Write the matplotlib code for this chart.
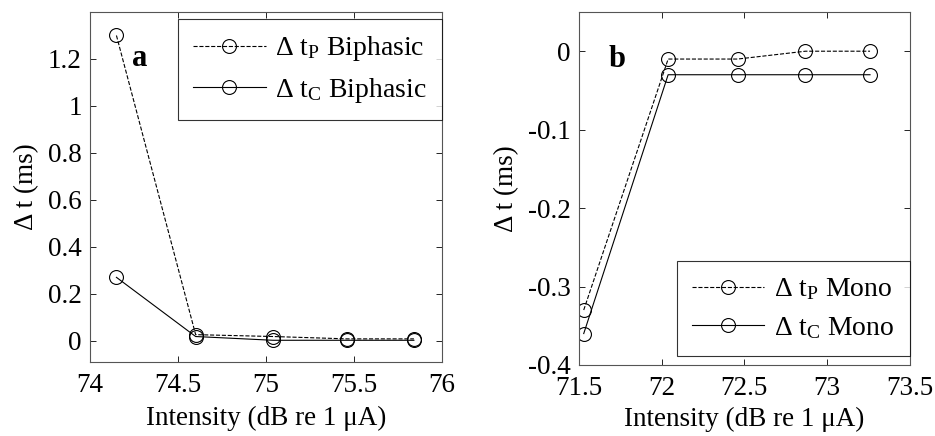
import matplotlib
matplotlib.use('Agg')
import matplotlib.pyplot as plt

plt.rcParams['font.family'] = ['Liberation Serif', 'DejaVu Serif']
plt.rcParams['mathtext.fontset'] = 'custom'
plt.rcParams['mathtext.rm'] = 'Liberation Serif'
plt.rcParams['mathtext.it'] = 'Liberation Serif:italic'
plt.rcParams['font.size'] = 19.5

# Biphasic stimulation
int_bi = [74.15, 74.60, 75.04, 75.46, 75.84]
dtp_bi = [1.30, 0.026, 0.018, 0.008, 0.008]
dtc_bi = [0.27, 0.018, 0.002, 0.002, 0.002]

# Monophasic stimulation
int_mono = [71.53, 72.04, 72.46, 72.87, 73.26]
dtp_mono = [-0.33, -0.01, -0.01, 0.0, 0.0]
dtc_mono = [-0.36, -0.03, -0.03, -0.03, -0.03]

fig = plt.figure(figsize=(9.35, 4.36), dpi=100)
ax1 = fig.add_axes([0.0963, 0.170, 0.3765, 0.8025])
ax2 = fig.add_axes([0.619, 0.163, 0.354, 0.8095])

mk = dict(marker='o', markersize=10, markerfacecolor='none',
          markeredgecolor='k', markeredgewidth=0.8, color='k', linewidth=0.8)
leg_kw = dict(frameon=True, fancybox=False, edgecolor='k', handlelength=2.6,
              borderpad=0.55, labelspacing=0.45, handletextpad=0.35,
              borderaxespad=0.0, fontsize=20)

ax1.plot(int_bi, dtp_bi, linestyle='--', label='Δ t$_{\\mathrm{P}}$ Biphasic', **mk)
ax1.plot(int_bi, dtc_bi, linestyle='-', label='Δ t$_{\\mathrm{C}}$ Biphasic', **mk)
ax1.set_xlim(74, 76)
ax1.set_ylim(-0.09, 1.4)
ax1.set_xticks([74, 74.5, 75, 75.5, 76])
ax1.set_xticklabels(['74', '74.5', '75', '75.5', '76'])
ax1.set_yticks([0, 0.2, 0.4, 0.6, 0.8, 1.0, 1.2])
ax1.set_yticklabels(['0', '0.2', '0.4', '0.6', '0.8', '1', '1.2'])
ax1.set_xlabel('Intensity (dB re 1 μA)', labelpad=6)
ax1.set_ylabel('Δ t (ms)', labelpad=6)
ax1.text(0.12, 0.845, 'a', transform=ax1.transAxes, fontweight='bold', fontsize=22)
ax1.legend(loc='upper right', bbox_to_anchor=(1.0, 0.98), **leg_kw).get_frame().set_linewidth(0.8)

ax2.plot(int_mono, dtp_mono, linestyle='--', label='Δ t$_{\\mathrm{P}}$ Mono', **mk)
ax2.plot(int_mono, dtc_mono, linestyle='-', label='Δ t$_{\\mathrm{C}}$ Mono', **mk)
ax2.set_xlim(71.5, 73.5)
ax2.set_ylim(-0.4, 0.05)
ax2.set_xticks([71.5, 72, 72.5, 73, 73.5])
ax2.set_xticklabels(['71.5', '72', '72.5', '73', '73.5'])
ax2.set_yticks([-0.4, -0.3, -0.2, -0.1, 0])
ax2.set_yticklabels(['-0.4', '-0.3', '-0.2', '-0.1', '0'])
ax2.set_xlabel('Intensity (dB re 1 μA)', labelpad=4)
ax2.set_ylabel('Δ t (ms)', labelpad=6)
ax2.text(0.09, 0.845, 'b', transform=ax2.transAxes, fontweight='bold', fontsize=22)
ax2.legend(loc='lower right', bbox_to_anchor=(1.0, 0.025), **leg_kw).get_frame().set_linewidth(0.8)

for ax in (ax1, ax2):
    ax.tick_params(direction='in', top=True, right=True, length=4, width=0.6)
    ax.tick_params(axis='x', pad=8)
    ax.tick_params(axis='y', pad=6)
    for s in ax.spines.values():
        s.set_linewidth(0.8)
        s.set_color('#555555')

fig.savefig('out.png', dpi=100)
